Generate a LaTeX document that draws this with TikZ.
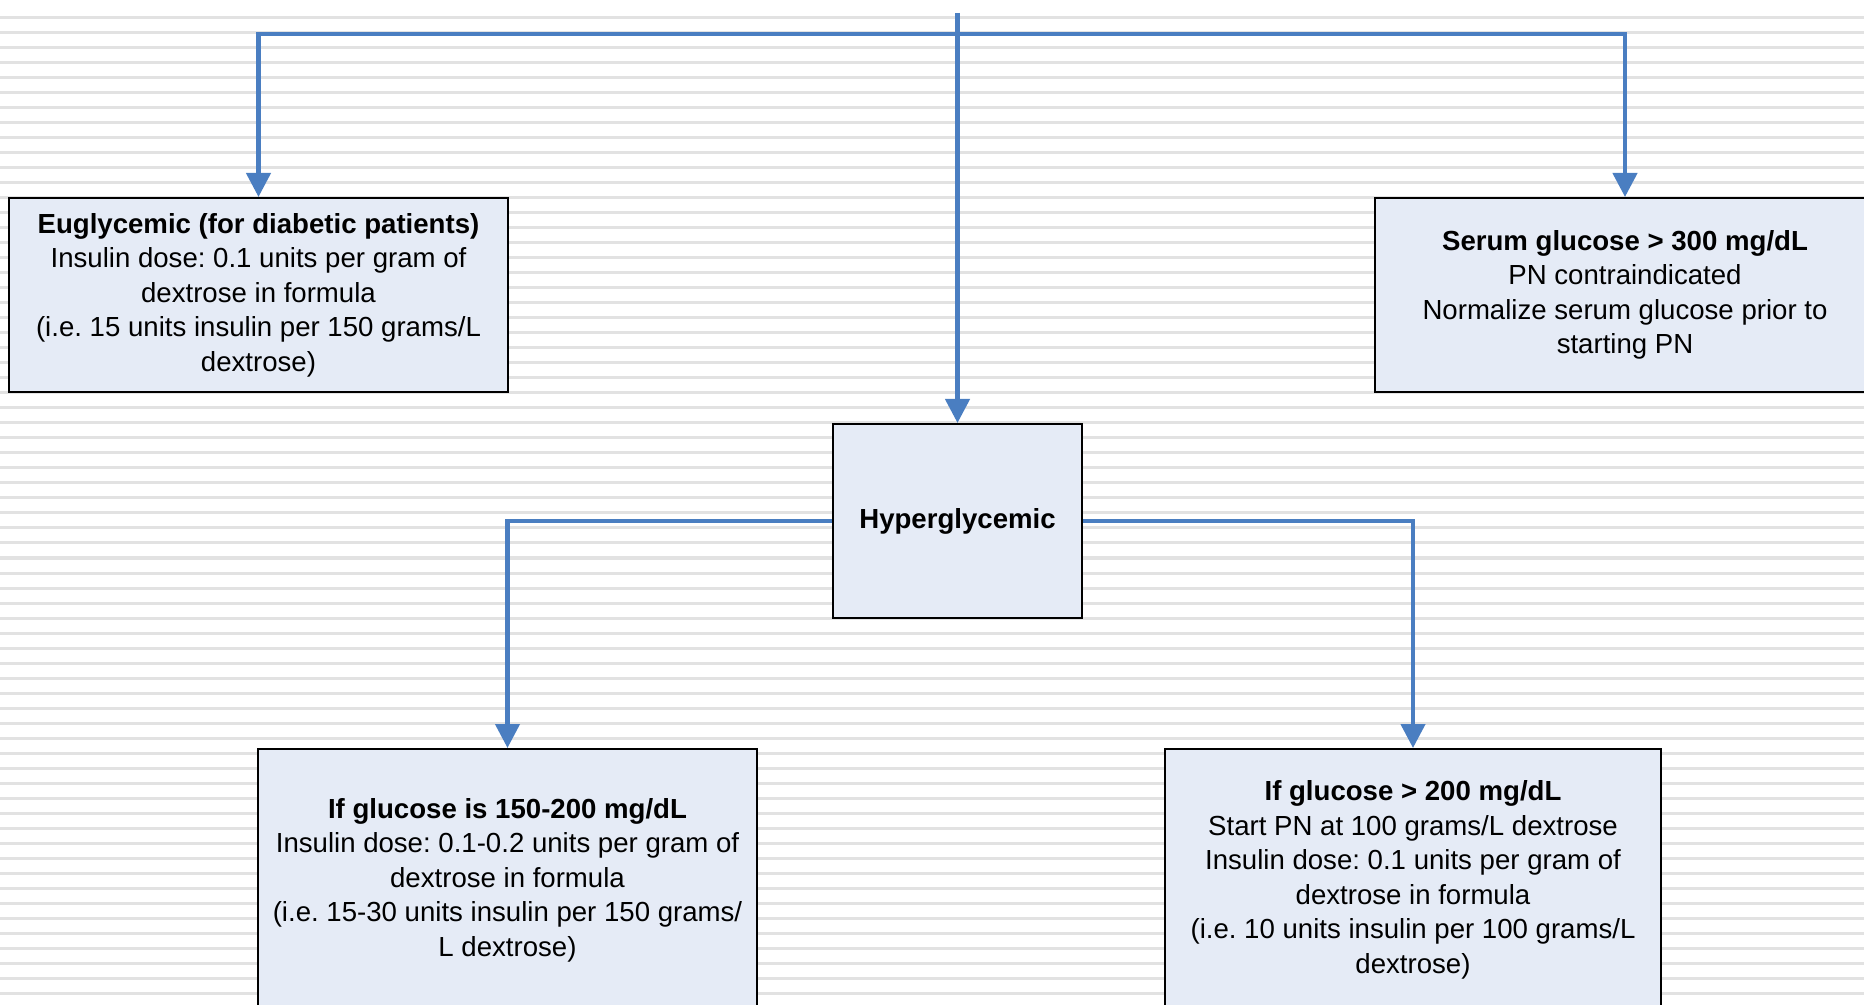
\documentclass[tikz,border=0pt]{standalone}
\usepackage{fontspec}
\setmainfont{Liberation Sans}
\usepackage{xcolor}
\usepackage{tikz}
\usetikzlibrary{arrows.meta,positioning}
\frenchspacing

\definecolor{linkblue}{RGB}{74,126,193}
\definecolor{boxfill}{RGB}{229,235,246}
\definecolor{stripe}{RGB}{226,226,226}

\begin{document}
\begin{tikzpicture}
[x=0.5pt, y=-0.5pt, font=\fontsize{13.8}{17.25}\selectfont,
% STYLES
% The level style is used to draw each glucose level box
level/.style={rectangle, draw=black, line width=1pt, fill=boxfill, align=center, inner sep=4pt, minimum width=249.5pt, minimum height=97pt},
% The link style is used for the blue connectors
link/.style={color=linkblue, line width=2.2pt, -{Triangle[length=12pt, width=12pt]}}]

\useasboundingbox (0,0) rectangle (1864,1005);

% Background stripes
\foreach \k in {0,...,65}
  \draw[stripe, line width=1.5pt] (0,18+15*\k) -- (1864,18+15*\k);

% Draw levels
\node [level, minimum width=124.5pt] (hyper) at (957.5,521) {\textbf{Hyperglycemic}};
\node [level] (eugly) at (258.5,295) {\textbf{Euglycemic (for diabetic patients)}\\
Insulin dose: 0.1 units per gram of\\
dextrose in formula\\
(i.e. 15 units insulin per 150 grams/L\\
dextrose)};
\node [level, minimum width=250pt] (serum) at (1625,295) {\textbf{Serum glucose > 300 mg/dL}\\
PN contraindicated\\
Normalize serum glucose prior to\\
starting PN};
\node [level, minimum height=131pt] (low) at (507.5,880) {\textbf{If glucose is 150-200 mg/dL}\\
Insulin dose: 0.1-0.2 units per gram of\\
dextrose in formula\\
(i.e. 15-30 units insulin per 150 grams/\\
L dextrose)};
\node [level, minimum width=248pt, minimum height=131pt] (high) at (1413,880) {\textbf{If glucose > 200 mg/dL}\\
Start PN at 100 grams/L dextrose\\
Insulin dose: 0.1 units per gram of\\
dextrose in formula\\
(i.e. 10 units insulin per 100 grams/L\\
dextrose)};

% Draw the links between levels
\coordinate (start) at (957.5,13);
\coordinate (fork) at (957.5,34);
\draw[link] (start) -- (hyper);
\draw[link] (fork) -| (eugly);
\draw[link] (fork) -| (serum);
\draw[link] (hyper) -| (low);
\draw[link] (hyper) -| (high);

\end{tikzpicture}
\end{document}
